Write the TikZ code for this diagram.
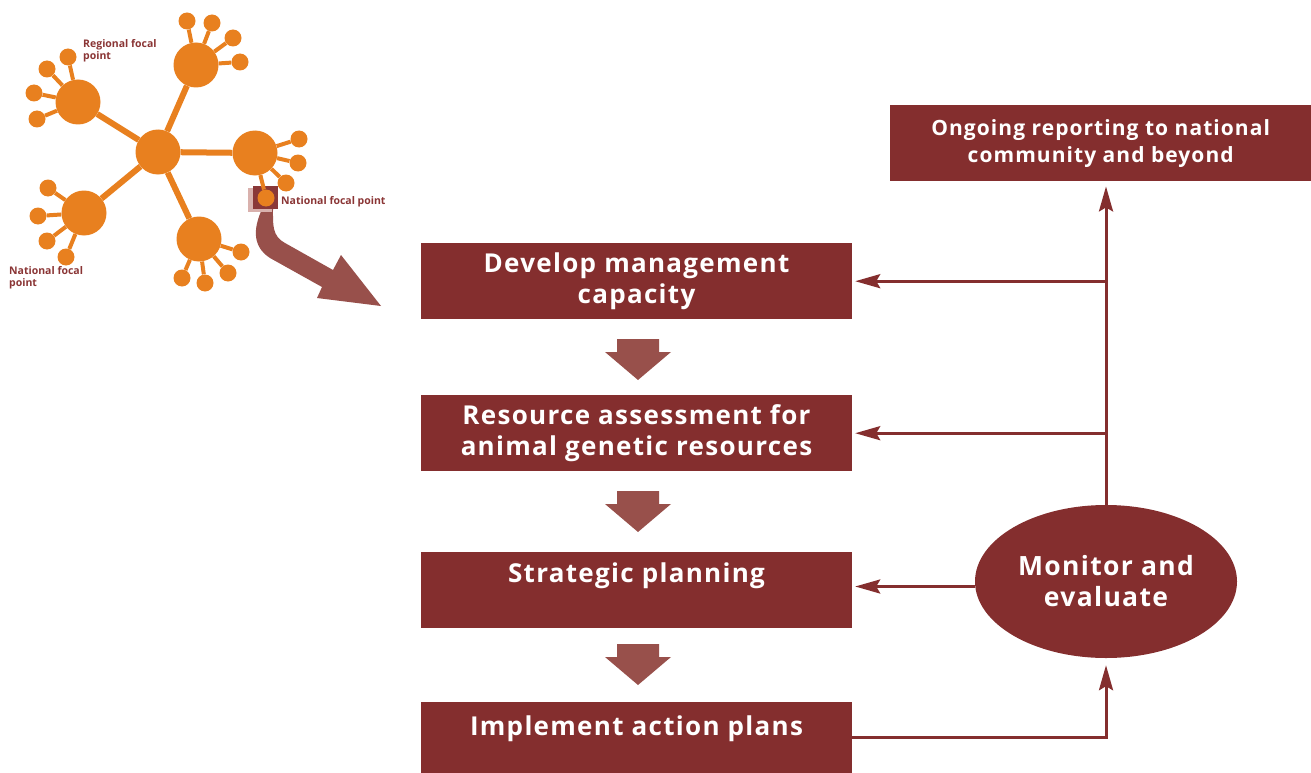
\documentclass[tikz,border=0pt]{standalone}
\usepackage{fontspec}
\setmainfont{Open Sans}
\newfontfamily\stagefont[LetterSpace=5]{Open Sans}
\usetikzlibrary{arrows.meta,shapes.geometric}

\definecolor{boxred}{HTML}{842E2E}
\definecolor{arrowred}{HTML}{98504B}
\definecolor{dotorange}{HTML}{E8801F}
\definecolor{shadepink}{HTML}{D9B1AD}
\definecolor{labelred}{HTML}{8A3535}

\begin{document}
\begin{tikzpicture}[x=1pt, y=-1pt, >={Stealth[length=25pt,width=14pt,inset=4pt]},
	stage/.style={fill=boxred, text=white, font=\stagefont\bfseries\fontsize{26}{31}\selectfont,
		minimum width=431pt, minimum height=76pt, inner sep=0pt, align=center, anchor=north},
	flow/.style={->, draw=boxred, line width=3pt},
	hubdot/.style={circle, fill=dotorange, minimum size=45pt, inner sep=0pt},
	leaf/.style={circle, fill=dotorange, minimum size=17pt, inner sep=0pt},
	spoke/.style={draw=dotorange, line width=6pt},
	twig/.style={draw=dotorange, line width=4pt},
	tag/.style={text=labelred, font=\bfseries\fontsize{10.5}{12}\selectfont, align=left, inner sep=0pt, anchor=north west}]
	% 0. canvas size of the reference
	\useasboundingbox (0,0) rectangle (1311,773);
	
	% 1. curved arrow leaving the national focal point
	\fill[arrowred] (262,209) .. controls (255,225) and (250,245) .. (270,258) -- (322,287)
		-- (317,298) -- (381,306) -- (341,255) -- (333,270) -- (285,243)
		.. controls (272,236) and (273,225) .. (273,209) -- cycle;
	\fill[shadepink] (248,188) rectangle (272,212);
	\fill[boxred!95!white] (253,186) rectangle (278,209);
	
	% 2. hub and regional focal points
	\node[hubdot] (hub) at (158,152) {};
	\foreach \name/\pos in {rnw/{(78,102)}, rn/{(196,65)}, re/{(255,153)}, rsw/{(84,213)}, rs/{(199,239)}}{
		\node[hubdot] (\name) at \pos {};
		\draw[spoke] (hub) -- (\name);
	}
	
	% 3. national focal points hanging off each region
	\foreach \name/\pts in {rnw/{(68,57),(47,69),(34,93),(37,119)},
		rn/{(187,21),(212,23),(233,38),(240,62)},
		re/{(299,139),(298,163),(286,183),(266,198)},
		rsw/{(48,188),(38,216),(47,241),(66,257)},
		rs/{(182,278),(205,283),(228,273),(241,252)}}{
		\foreach \p [count=\i] in \pts {
			\node[leaf] (\name-\i) at \p {};
			\draw[twig] (\name) -- (\name-\i);
		}
	}
	
	% network labels
	\node[tag] (lblreg) at (83,39) {Regional focal\\point};
	\node[tag] (lblnat) at (9,266) {National focal\\point};
	\node[tag] (lblnat2) at (281,196) {National focal point};
	
	% 4. process boxes
	\node[stage] (dev) at (636.5,243) {Develop management\\capacity};
	\node[stage] (assess) at (636.5,395) {Resource assessment for\\animal genetic resources};
	\node[stage, text height=30pt, text depth=46pt] (plan) at (636.5,552) {Strategic planning};
	\node[stage, minimum height=71pt, text height=33pt, text depth=38pt] (impl) at (636.5,702) {Implement action plans};
	
	% block arrows between the boxes
	\foreach \y in {339,491,644}{
		\fill[arrowred] (617,\y) -- (659,\y) -- (659,{\y+13}) -- (671,{\y+13}) -- (638,{\y+41})
			-- (605,{\y+13}) -- (617,{\y+13}) -- cycle;
	}
	
	% 5. reporting box and monitoring ellipse
	\node[stage, font=\stagefont\bfseries\fontsize{21}{27}\selectfont, minimum width=421pt, anchor=north west] (report) at (890,105) {Ongoing reporting to national\\community and beyond};
	\node[ellipse, fill=boxred, text=white, font=\stagefont\bfseries\fontsize{26.5}{31}\selectfont, align=center,
		minimum width=262pt, minimum height=153pt, inner sep=0pt] (mon) at (1106,581.5) {Monitor and\\evaluate};
	
	% 6. feedback connectors
	\coordinate (fork) at (mon.north |- dev.east);
	\draw[flow, shorten >=5pt] (mon.north) -- (mon.north |- report.south);
	\draw[flow, shorten >=3pt] (fork) -- (dev.east);
	\draw[flow, shorten >=3pt] (fork |- assess.east) -- (assess.east);
	\draw[flow, shorten >=3pt] ([yshift=-5pt]mon.west) -- ([yshift=-5pt]mon.west -| plan.east);
	\draw[flow, shorten >=7pt] (impl.east) -| (mon.south);
\end{tikzpicture}
\end{document}
